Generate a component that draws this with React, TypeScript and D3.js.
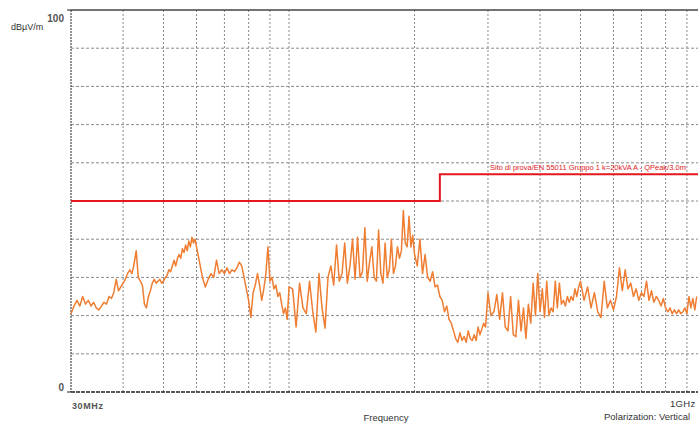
import React from 'react'
import * as d3 from 'd3'

// sweep bands: start frequency (MHz), step (MHz), measured levels (dBµV/m)
const band1Levels = [
  20.5, 22.5, 24, 22.5, 25, 23, 24, 22.5, 23.5, 22, 21.5, 22.5, 23.5, 23, 25, 24.5, 26, 29.5, 26.5, 27.5,
  28.5, 29.5, 31, 32, 31, 33.5, 37, 30, 29, 28, 23, 22, 25, 26.5, 28.5, 29.5, 28.5, 29, 29.5, 28.5,
  29, 30, 30.5, 32, 31.5, 33, 34.5, 33, 35, 36, 35, 37.5, 36.5, 38.5, 37, 39.5, 38, 40.5, 39, 40,
]
const band2Levels = [
  38, 34, 30, 27.5, 29.5, 31, 30, 34.5, 31, 32, 31, 32.5, 31, 32, 31.5, 32.5, 34, 33, 30, 27,
  24, 19.5, 26, 28, 31, 28, 24, 27, 31, 38, 29, 30, 27, 28, 25, 26, 23, 20.5, 22, 19,
]
const band3Levels = [
  27.5, 27, 17, 28.5, 22, 20.5, 29, 21, 15.7, 31, 22, 16.7, 30, 33, 28, 38.5, 29, 31, 39, 28.5,
  33, 40, 29.5, 40.5, 30, 31.5, 43, 29, 34, 38, 30, 29, 42.4, 31, 28.5, 39, 30, 32, 40, 31,
  33, 38, 35, 37, 47.5, 39, 38, 46, 38, 41,
]
const band4Levels = [
  36, 33, 40, 31, 36, 30, 29, 31.5, 27.5, 28, 25, 24, 21, 22.5, 19, 18, 16, 14, 13, 15.5,
  13.5, 14.5, 13, 16, 14, 13.5, 15, 13.5, 17, 15, 16.5, 18, 17,
]
const band5Levels = [
  26, 20, 21, 25.5, 19, 26, 17, 16, 25, 15, 14.5, 24, 16, 22, 14, 23, 18, 28.5, 20, 31,
  21, 27, 19.5, 29, 20, 22, 21, 29, 22, 28.5, 23, 24, 22.5, 25, 23.5, 25, 24, 27, 25, 27.5,
]
const band6Levels = [
  29, 24, 27.5, 22, 26, 21, 19.5, 29, 22, 24, 21.5, 25, 32.5, 26.5, 32, 27, 28.5, 25, 27, 24,
  26, 25, 29, 24, 26.5, 23.5, 25, 24, 22.5, 24.5, 22, 21, 22, 20.5, 21.5, 20.5, 21.5, 20.5, 21, 22,
  20.5, 25, 22, 24.5, 21.5, 25,
]
const bands = [
  { startMHz: 30, stepMHz: 0.5, levels: band1Levels },
  { startMHz: 60, stepMHz: 1, levels: band2Levels },
  { startMHz: 100, stepMHz: 2, levels: band3Levels },
  { startMHz: 200, stepMHz: 3, levels: band4Levels },
  { startMHz: 300, stepMHz: 5, levels: band5Levels },
  { startMHz: 500, stepMHz: 10, levels: band6Levels },
]

// EN 55011 group 1 class A limit at 3 m
const limitFreqs = [30, 230, 230, 1000]
const limitLevels = [50, 50, 57, 57]

const yTicks = [10, 20, 30, 40, 50, 60, 70, 80, 90]
const xGrid = [40, 50, 60, 70, 80, 90, 100, 200, 300, 400, 500, 600, 700, 800, 900]

const W = 698
const H = 423
const font = '"Liberation Sans", Arial, sans-serif'

const App = () => {
  const x = d3.scaleLog().domain([30, 1000]).range([71, 706])
  const y = d3.scaleLinear().domain([0, 100]).range([392, 10])

  const trace: [number, number][] = []
  bands.forEach(b => {
    b.levels.forEach((v, i) => trace.push([b.startMHz + i * b.stepMHz, v]))
  })

  const line = d3
    .line<[number, number]>()
    .x(d => x(d[0]))
    .y(d => y(d[1]))

  const limit = limitFreqs.map((f, i) => [f, limitLevels[i]] as [number, number])

  return (
    <svg
      width={W}
      height={H}
      style={{ position: 'absolute', left: 0, top: 0, background: '#fff' }}
      fontFamily={font}
    >
      <rect width={W} height={H} fill="#fff" />
      <g>
        {yTicks.map(t => (
          <line
            key={t}
            x1={71}
            x2={W}
            y1={y(t)}
            y2={y(t)}
            stroke="#8a8a8a"
            strokeDasharray="3 2"
          />
        ))}
        {xGrid.map(f => (
          <line
            key={f}
            x1={x(f)}
            x2={x(f)}
            y1={y(100)}
            y2={y(0)}
            stroke="#8a8a8a"
            strokeDasharray="2 2"
          />
        ))}
      </g>
      <line x1={71} x2={W} y1={y(100)} y2={y(100)} stroke="#444" strokeWidth={1.5} />
      <line x1={71} x2={W} y1={y(0)} y2={y(0)} stroke="#222" strokeWidth={1.3} strokeDasharray="4 1" />
      <line x1={71} x2={71} y1={y(100)} y2={y(0)} stroke="#222" strokeDasharray="2 1" />
      <line x1={67} x2={71} y1={y(0)} y2={y(0)} stroke="#222" />
      <line x1={67} x2={71} y1={y(100)} y2={y(100)} stroke="#222" />

      <path d={line(trace) || ''} fill="none" stroke="#ef7d32" strokeWidth={1.5} strokeLinejoin="round" />
      <path d={line(limit) || ''} fill="none" stroke="#e3171d" strokeWidth={2} />
      <text x={490} y={170} fontSize={7.5} fill="#e3171d">
        Sito di prova/EN 55011 Gruppo 1 k=20kVA A - QPeak/3.0m
      </text>

      <text x={64} y={22} fontSize={10} fontWeight="bold" fill="#555" textAnchor="end">100</text>
      <text x={11} y={30} fontSize={9} fill="#333">dBµV/m</text>
      <text x={64} y={391} fontSize={10} fontWeight="bold" fill="#555" textAnchor="end">0</text>
      <text x={72} y={409} fontSize={9} fontWeight="bold" fill="#555" letterSpacing={0.6}>30MHz</text>
      <text x={386} y={421} fontSize={9.5} fill="#333" textAnchor="middle">Frequency</text>
      <text x={670} y={407} fontSize={9.5} fill="#333" letterSpacing={0.3}>1GHz</text>
      <text x={604} y={420} fontSize={9.5} fill="#333">Polarization: Vertical</text>
    </svg>
  )
}

export default App
